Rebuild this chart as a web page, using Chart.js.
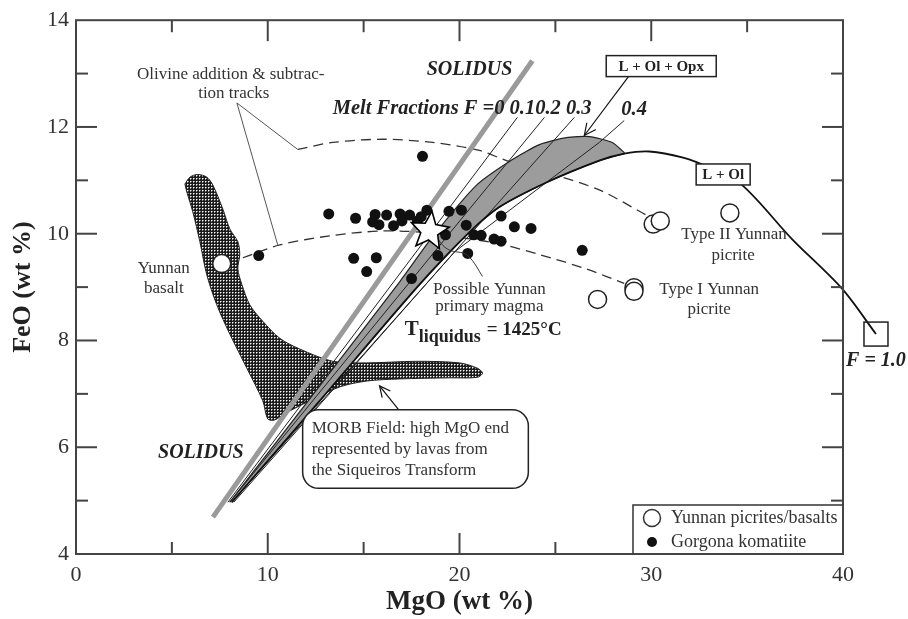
<!DOCTYPE html>
<html>
<head>
<meta charset="utf-8">
<script src="https://cdn.jsdelivr.net/npm/chart.js@4.4.1/dist/chart.umd.min.js"></script>
<style>
  html, body { margin: 0; background: #fff; }
  canvas { display: block; }
</style>
</head>
<body>
<canvas id="myChart" width="908" height="619"></canvas>
<script>
// tick labels
const xMajor = [0, 10, 20, 30, 40];
const yMajor = [4, 6, 8, 10, 12, 14];

// [MgO, FeO] pairs
const gorgona = [
    [9.53, 9.59], [13.18, 10.37], [14.58, 10.29], [15.6, 10.36], [15.47, 10.22], [15.8, 10.17],
    [16.2, 10.35], [16.9, 10.37], [16.56, 10.15], [17.0, 10.24], [17.4, 10.35], [17.8, 10.24],
    [18.0, 10.32], [18.3, 10.44], [18.07, 11.45], [19.45, 10.42], [20.1, 10.44], [22.17, 10.33],
    [20.35, 10.16], [19.27, 9.98], [20.75, 9.98], [21.13, 9.97], [21.8, 9.9], [22.17, 9.86],
    [22.86, 10.13], [23.73, 10.1], [26.4, 9.69], [20.43, 9.63], [18.87, 9.59], [14.48, 9.54],
    [15.66, 9.55], [15.16, 9.29], [17.5, 9.16]
];
const yunnan = [[7.6, 9.44], [27.2, 8.77], [29.1, 8.99], [29.1, 8.92], [30.1, 10.18], [30.47, 10.24], [34.1, 10.39]];
const primaryMagma = [[18.44, 10.05]];
const fullMelt = [[41.72, 8.12]];

const trackUpper = [[11.56, 11.58], [13.39, 11.71], [15.99, 11.77], [18.59, 11.71], [21.04, 11.56],
    [22.45, 11.37], [24.53, 11.15], [27.29, 10.82], [29.74, 10.35]];
const trackLower = [[8.7, 9.55], [10.63, 9.79], [13.23, 9.96], [15.83, 10.05], [17.92, 10.03],
    [19.84, 9.94], [22.08, 9.81], [24.17, 9.61], [26.61, 9.34], [28.59, 9.07]];

const solidus = [[7.14, 4.69], [23.8, 13.24]];

const bandLeft = [[8.02, 4.97], [12.71, 7.15], [16.88, 9.1], [18.59, 9.94], [20.89, 10.91], [22.76, 11.39],
    [24.17, 11.67], [25.57, 11.8], [26.77, 11.82], [27.97, 11.71], [28.59, 11.52]];
const bandRight = [[8.13, 4.97], [12.71, 6.87], [17.92, 9.05], [20.52, 10.03], [22.08, 10.5],
    [24.53, 10.96], [27.29, 11.37], [28.59, 11.5]];
const olivineCurve = [[29.9, 11.54], [31.61, 11.43], [33.02, 11.24], [34.74, 10.91], [37.34, 9.9],
    [39.95, 8.97], [41.72, 8.12]];

const meltF01 = [[7.92, 4.97], [23.02, 12.18]];
const meltF02 = [[8.02, 4.97], [24.43, 12.18]];
const meltF03 = [[8.13, 4.97], [25.99, 12.18]];
const meltF04 = [[8.23, 4.97], [19.74, 9.66], [27.29, 11.71], [28.59, 12.12]];

const morbField = [[5.68, 10.93], [5.94, 11.06], [6.35, 11.11], [6.82, 11.06], [7.14, 10.91], [7.66, 10.46],
    [8.02, 10.09], [8.44, 9.85], [8.54, 9.61], [8.44, 9.34], [8.65, 9.05], [9.06, 8.67], [9.74, 8.36],
    [10.63, 8.04], [11.67, 7.84], [13.39, 7.61], [15.16, 7.58], [17.76, 7.61], [20.0, 7.58], [20.94, 7.48],
    [21.2, 7.39], [20.94, 7.31], [19.48, 7.3], [16.88, 7.28], [15.16, 7.24], [13.75, 7.13], [12.19, 6.87],
    [10.89, 6.63], [10.36, 6.51], [10.0, 6.53], [9.74, 6.87], [8.91, 7.48], [8.02, 8.12], [7.34, 8.67],
    [6.82, 9.23], [6.46, 9.85], [6.09, 10.41], [5.78, 10.78], [5.68, 10.93]];

// labels placed in data units
const notes = [
    ['Olivine addition & subtrac-', 8.07, 12.99, 'n'],
    ['tion tracks', 8.23, 12.62, 'n'],
    ['SOLIDUS', 20.52, 13.07, 'bi'],
    ['SOLIDUS', 6.51, 5.9, 'bi'],
    ['Yunnan', 4.58, 9.34, 'n'],
    ['basalt', 4.58, 8.97, 'n'],
    ['Type II Yunnan', 34.32, 9.98, 'n'],
    ['picrite', 34.27, 9.59, 'n'],
    ['Type I Yunnan', 33.02, 8.95, 'n'],
    ['picrite', 33.02, 8.58, 'n'],
    ['Possible Yunnan', 21.56, 8.95, 'n'],
    ['primary magma', 21.56, 8.64, 'n'],
    ['F = 1.0', 41.72, 7.61, 'bi']
];

const serif = '"Liberation Serif", "Times New Roman", serif';
const pts = a => a.map(([x, y]) => ({x, y}));

const canvas = document.getElementById('myChart');
const ctx = canvas.getContext('2d');

function hatch() {
    const c = document.createElement('canvas');
    c.width = 3; c.height = 3;
    const g = c.getContext('2d');
    g.fillStyle = '#1b1b1b';
    g.fillRect(0, 0, 3, 3);
    g.fillStyle = '#ffffff';
    g.fillRect(1, 1, 1, 1);
    g.fillStyle = '#8a8a8a';
    g.fillRect(2, 1, 1, 1);
    g.fillRect(1, 2, 1, 1);
    return ctx.createPattern(c, 'repeat');
}

function drawStar(c, cx, cy, r) {
    c.save();
    c.beginPath();
    for (let i = 0; i < 10; i++) {
        const rr = i % 2 ? r * 0.45 : r;
        const ang = -Math.PI / 2 + 0.12 + i * Math.PI / 5;
        const sx = cx + rr * Math.cos(ang), sy = cy + rr * Math.sin(ang);
        if (i === 0) c.moveTo(sx, sy); else c.lineTo(sx, sy);
    }
    c.closePath();
    c.fillStyle = '#ffffff';
    c.fill();
    c.lineWidth = 1.6;
    c.strokeStyle = '#000000';
    c.stroke();
    c.restore();
}

function lineSet(data, color, width, extra) {
    return Object.assign({
        data: pts(data), showLine: true, pointRadius: 0, borderColor: color,
        borderWidth: width, backgroundColor: 'transparent', fill: false
    }, extra || {});
}

function arrowHead(c, x1, y1, x2, y2, size) {
    const ang = Math.atan2(y2 - y1, x2 - x1);
    c.beginPath();
    c.moveTo(x2 - size * Math.cos(ang - 0.45), y2 - size * Math.sin(ang - 0.45));
    c.lineTo(x2, y2);
    c.lineTo(x2 - size * Math.cos(ang + 0.45), y2 - size * Math.sin(ang + 0.45));
    c.stroke();
}

function roundBox(c, x, y, w, h, r) {
    c.beginPath();
    c.moveTo(x + r, y);
    c.arcTo(x + w, y, x + w, y + h, r);
    c.arcTo(x + w, y + h, x, y + h, r);
    c.arcTo(x, y + h, x, y, r);
    c.arcTo(x, y, x + w, y, r);
    c.closePath();
}

const deco = {
    id: 'deco',
    afterDatasetsDraw(chart) {
        const {ctx: c, chartArea: a, scales: {x, y}} = chart;
        const px = v => x.getPixelForValue(v);
        const py = v => y.getPixelForValue(v);
        const seg = (x1, y1, x2, y2) => { c.beginPath(); c.moveTo(x1, y1); c.lineTo(x2, y2); c.stroke(); };
        c.save();

        // F = 1.0 square at the position the scatter dataset computed
        chart.getDatasetMeta(0).data.forEach(p => {
            c.strokeStyle = '#222';
            c.lineWidth = 1.5;
            c.strokeRect(p.x - 12, p.y - 12, 24, 24);
        });

        // leader lines
        c.strokeStyle = '#555';
        c.lineWidth = 1;
        seg(px(8.39), py(12.45), px(11.56), py(11.58));
        seg(px(8.39), py(12.45), px(10.52), py(9.79));
        c.strokeStyle = '#333';
        c.beginPath();
        c.moveTo(px(18.8), py(9.95));
        c.bezierCurveTo(px(19.4), py(9.55), px(20.0), py(9.72), px(20.4), py(9.6));
        c.bezierCurveTo(px(20.8), py(9.48), px(21.0), py(9.3), px(21.2), py(9.2));
        c.stroke();

        // L + Ol + Opx arrow
        c.strokeStyle = '#111';
        c.lineWidth = 1.2;
        seg(px(28.85), py(12.96), px(26.51), py(11.84));
        arrowHead(c, px(28.85), py(12.96), px(26.51), py(11.84), 13);
        // MORB arrow
        seg(px(16.875), py(6.68), px(15.83), py(7.15));
        arrowHead(c, px(16.875), py(6.68), px(15.83), py(7.15), 12);

        // boxed labels
        c.font = 'bold 15px ' + serif;
        c.textAlign = 'center';
        c.textBaseline = 'middle';
        [['L + Ol + Opx', 30.52, 13.14, 110], ['L + Ol', 33.75, 11.11, 54]].forEach(([t, bx, by, w]) => {
            const cx = px(bx), cy = py(by);
            c.fillStyle = '#fff';
            c.fillRect(cx - w / 2, cy - 10.5, w, 21);
            c.strokeStyle = '#222';
            c.lineWidth = 1.5;
            c.strokeRect(cx - w / 2, cy - 10.5, w, 21);
            c.fillStyle = '#222';
            c.fillText(t, cx, cy + 1);
        });

        // MORB box
        const bx = px(11.82), by = py(6.7);
        const bw = px(23.59) - bx, bh = py(5.23) - by;
        roundBox(c, bx, by, bw, bh, 16);
        c.fillStyle = '#fff';
        c.fill();
        c.lineWidth = 1.5;
        c.strokeStyle = '#222';
        c.stroke();
        c.font = '17px ' + serif;
        c.textAlign = 'left';
        c.fillStyle = '#333';
        ['MORB Field: high MgO end', 'represented by lavas from', 'the Siqueiros Transform']
            .forEach((t, i) => c.fillText(t, bx + 9, by + 19 + i * 21));

        // free text
        notes.forEach(([t, nx, ny, s]) => {
            c.font = s === 'bi' ? 'italic bold 20px ' + serif : '17px ' + serif;
            c.fillStyle = s === 'bi' ? '#222' : '#333';
            c.textAlign = 'center';
            c.fillText(t, px(nx), py(ny));
        });
        c.font = 'italic bold 20.5px ' + serif;
        c.fillStyle = '#222';
        c.textAlign = 'left';
        c.fillText('Melt Fractions F =0 0.10.2 0.3', px(13.39), py(12.34));
        c.fillText('0.4', px(28.44), py(12.32));

        // T liquidus
        c.textBaseline = 'alphabetic';
        let tx = px(17.14);
        const ty = py(8.23) + 7;
        c.font = 'bold 21px ' + serif;
        c.fillText('T', tx, ty);
        tx += c.measureText('T').width;
        c.font = 'bold 18px ' + serif;
        c.fillText('liquidus', tx, ty + 7);
        tx += c.measureText('liquidus').width + 6;
        c.font = 'bold 19px ' + serif;
        c.fillText('= 1425\u00b0C', tx, ty);

        // frame and inward ticks
        c.strokeStyle = '#444';
        c.lineWidth = 2;
        c.strokeRect(a.left, a.top, a.right - a.left, a.bottom - a.top);
        for (let v = 5; v < 40; v += 5) {
            const len = xMajor.includes(v) ? 21 : 12;
            seg(px(v), a.bottom, px(v), a.bottom - len);
            seg(px(v), a.top, px(v), a.top + len);
        }
        for (let v = 5; v < 14; v++) {
            const len = yMajor.includes(v) ? 21 : 12;
            seg(a.left, py(v), a.left + len, py(v));
            seg(a.right, py(v), a.right - len, py(v));
        }

        // legend, drawn over the ticks it covers
        const lx = a.right - 210, ly = a.bottom - 49;
        c.fillStyle = '#fff';
        c.fillRect(lx, ly, 210, 49);
        c.strokeStyle = '#333';
        c.lineWidth = 1.5;
        c.strokeRect(lx, ly, 210, 49);
        c.beginPath();
        c.arc(lx + 19, ly + 13, 8.5, 0, Math.PI * 2);
        c.stroke();
        c.fillStyle = '#111';
        c.beginPath();
        c.arc(lx + 19, ly + 37, 5, 0, Math.PI * 2);
        c.fill();
        c.font = '18px ' + serif;
        c.fillStyle = '#333';
        c.textBaseline = 'middle';
        c.fillText('Yunnan picrites/basalts', lx + 38, ly + 13);
        c.fillText('Gorgona komatiite', lx + 38, ly + 37);
        c.strokeStyle = '#444';
        c.lineWidth = 2;
        seg(lx, a.bottom, a.right, a.bottom);
        seg(a.right, ly, a.right, a.bottom);
        c.restore();
    },
    afterDraw(chart) {
        // primary magma star, on top of everything
        const {ctx: c, scales: {x, y}} = chart;
        primaryMagma.forEach(([mx, my]) => drawStar(c, x.getPixelForValue(mx), y.getPixelForValue(my), 20));
    }
};

new Chart(canvas, {
    type: 'scatter',
    data: {
        datasets: [
            {label: 'F = 1.0', data: pts(fullMelt), pointRadius: 0},
            {label: 'Possible Yunnan primary magma', data: pts(primaryMagma), pointRadius: 0},
            {label: 'Yunnan picrites/basalts', data: pts(yunnan), pointRadius: 9,
                backgroundColor: '#fff', borderColor: '#222', borderWidth: 1.5},
            {label: 'Gorgona komatiite', data: pts(gorgona), pointRadius: 5.5,
                backgroundColor: '#111', borderColor: '#111', borderWidth: 0},
            lineSet(bandRight.concat(olivineCurve), '#111', 1.8, {tension: 0.3, clip: false}),
            lineSet(meltF01, '#222', 1),
            lineSet(meltF02, '#222', 1),
            lineSet(meltF03, '#222', 1),
            lineSet(meltF04, '#222', 1),
            lineSet(bandLeft.concat(bandRight.slice().reverse()), '#222', 1.2,
                {fill: 'shape', backgroundColor: '#9c9c9c', tension: 0.2}),
            lineSet(solidus, '#9a9a9a', 5),
            lineSet(trackUpper, '#333', 1.3, {borderDash: [10, 6], tension: 0.3}),
            lineSet(trackLower, '#333', 1.3, {borderDash: [10, 6], tension: 0.3}),
            lineSet(morbField, '#222', 1, {fill: 'shape', backgroundColor: hatch(), tension: 0.3})
        ]
    },
    options: {
        responsive: false,
        animation: false,
        layout: {padding: {top: 17, right: 65, left: 0, bottom: 0}},
        plugins: {legend: {display: false}, tooltip: {enabled: false}},
        scales: {
            x: {
                type: 'linear', min: 0, max: 40,
                afterFit: s => { s.height = 65; },
                grid: {display: false, drawTicks: false}, border: {display: false},
                ticks: {stepSize: 5, padding: 8, autoSkip: false, maxRotation: 0, color: '#333',
                    font: {family: serif, size: 22},
                    callback: v => xMajor.includes(v) ? v : ''},
                title: {display: true, text: 'MgO (wt %)', color: '#222',
                    font: {family: serif, size: 27, weight: 'bold'}, padding: {top: 0, bottom: 1}}
            },
            y: {
                type: 'linear', min: 4, max: 14,
                afterFit: s => { s.width = 76; },
                grid: {display: false, drawTicks: false}, border: {display: false},
                ticks: {stepSize: 1, padding: 7, autoSkip: false, color: '#333',
                    font: {family: serif, size: 22},
                    callback: v => yMajor.includes(v) ? v : ''},
                title: {display: true, text: 'FeO (wt %)', color: '#222',
                    font: {family: serif, size: 26, weight: 'bold'}, padding: {top: 8, bottom: 0}}
            }
        }
    },
    plugins: [deco]
});
</script>
</body>
</html>
